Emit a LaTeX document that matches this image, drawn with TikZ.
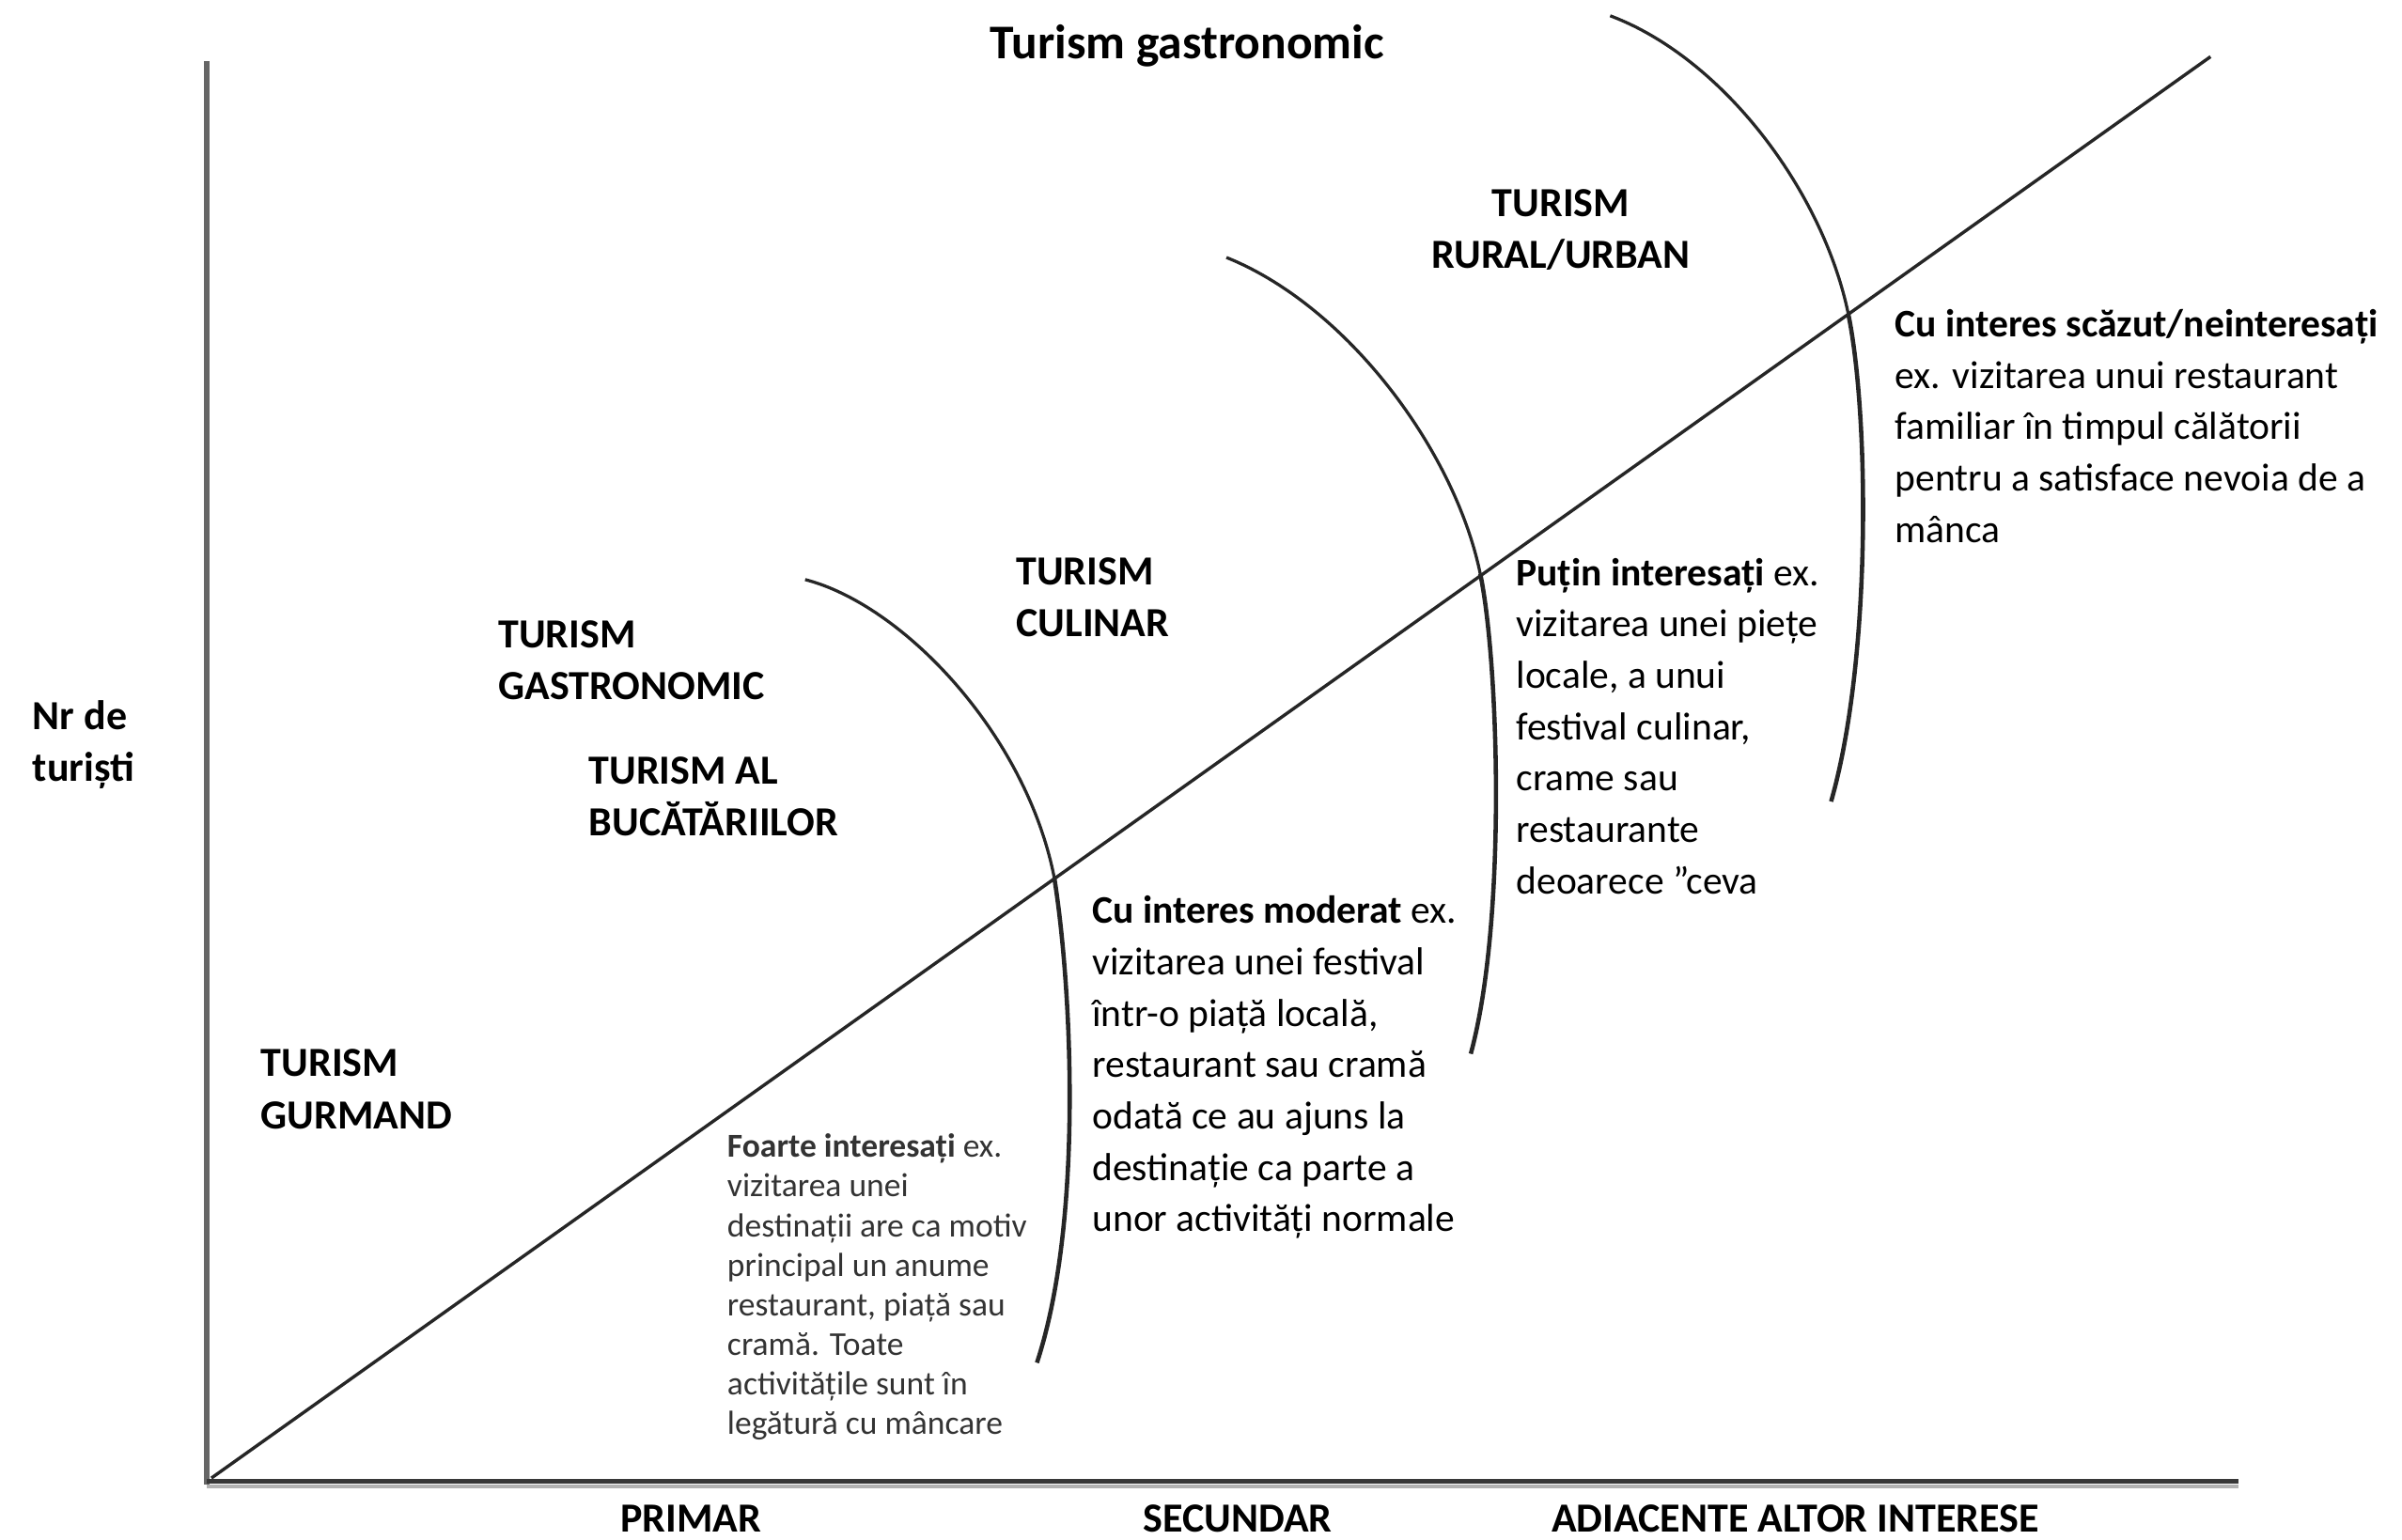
\documentclass[tikz,border=0pt]{standalone}
\usepackage{fontspec}
\setmainfont{Carlito}
\begin{document}
\begin{tikzpicture}[x=0.5bp,y=-0.5bp,
  lbl/.style={anchor=base west, inner sep=0pt, font=\fontsize{13.5bp}{16.9bp}\selectfont\bfseries},
  axlbl/.style={anchor=base, inner sep=0pt, font=\fontsize{13.5bp}{16.9bp}\selectfont\bfseries},
  body/.style={anchor=base west, inner sep=0pt, font=\fontsize{12.75bp}{16.75bp}\selectfont},
  smallbody/.style={anchor=base west, inner sep=0pt, text=black!80, font=\fontsize{10.9bp}{12.93bp}\selectfont},
  upcurve/.style={line width=1bp, black!85},
  lowcurve/.style={line width=1.4bp, black!85},
  ]
\useasboundingbox (0,0) rectangle (1568,1005);
\clip (0,0) rectangle (1568,1005);

% axes
\coordinate (ytop) at (135,40);
\coordinate (ybot) at (135,969);
\coordinate (xl) at (135,967);
\coordinate (xr) at (1461,967);
\draw[line width=2bp, black!60] (ytop) -- (ybot);
\draw[line width=1.2bp, black!30] ([yshift=-3.5*0.5bp]xl) -- ([yshift=-3.5*0.5bp]xr);
\draw[line width=1.6bp, black!78] (xl) -- (xr);

% diagonal
\coordinate (o) at (138,965);
\coordinate (d) at (1443,37);
\draw[line width=1.05bp, black!85] (o) -- (d);

% curves
\coordinate (c1a) at (525.6,378.4);
\coordinate (c1m) at (688.2,573);
\coordinate (c1b) at (676.9,889.7);
\draw[upcurve] (c1a) .. controls (590,395) and (670,480) .. (c1m);
\draw[lowcurve] (c1m) .. controls (699,640) and (708,795) .. (c1b);

\coordinate (c2a) at (800.6,168.1);
\coordinate (c2m) at (966.3,374.7);
\coordinate (c2b) at (960.1,688);
\draw[upcurve] (c2a) .. controls (880,200) and (950,295) .. (c2m);
\draw[lowcurve] (c2m) .. controls (978,430) and (984,600) .. (c2b);

\coordinate (c3a) at (1051.1,10.3);
\coordinate (c3m) at (1206.5,204.8);
\coordinate (c3b) at (1195.3,523.3);
\draw[upcurve] (c3a) .. controls (1125,38) and (1190,125) .. (c3m);
\draw[lowcurve] (c3m) .. controls (1220,270) and (1222,430) .. (c3b);

% title
\node[anchor=base, inner sep=0pt, font=\fontsize{15.8bp}{18bp}\selectfont\bfseries] (title) at (775,38.5) {Turism gastronomic};

% y label
\node[lbl] (ylab) at (21,476.5) {\begin{tabular}[t]{@{}l@{}}Nr de\\turiști\end{tabular}};

% category labels
\node[lbl] (gurmand) at (170,703) {\begin{tabular}[t]{@{}l@{}}TURISM\\GURMAND\end{tabular}};
\node[lbl] (gastro) at (325,423) {\begin{tabular}[t]{@{}l@{}}TURISM\\GASTRONOMIC\end{tabular}};
\node[lbl] (bucat) at (384,512) {\begin{tabular}[t]{@{}l@{}}TURISM AL\\BUCĂTĂRIILOR\end{tabular}};
\node[lbl] (culinar) at (663,382) {\begin{tabular}[t]{@{}l@{}}TURISM\\CULINAR\end{tabular}};
\node[lbl, anchor=base] (rural) at (1019,141.5) {\begin{tabular}[t]{@{}c@{}}TURISM\\RURAL/URBAN\end{tabular}};

% descriptions
\node[smallbody] (foarte) at (474.4,755.6) {\begin{tabular}[t]{@{}l@{}}{\bfseries Foarte interesați} ex.\\vizitarea unei\\destinații are ca motiv\\principal un anume\\restaurant, piață sau\\cramă. Toate\\activitățile sunt în\\legătură cu mâncare\end{tabular}};

\node[body] (moderat) at (712.7,603) {\begin{tabular}[t]{@{}l@{}}{\bfseries Cu interes moderat} ex.\\vizitarea unei festival\\într-o piață locală,\\restaurant sau cramă\\odată ce au ajuns la\\destinație ca parte a\\unor activități normale\end{tabular}};

\node[body] (putin) at (989.4,382.4) {\begin{tabular}[t]{@{}l@{}}{\bfseries Puțin interesați} ex.\\vizitarea unei piețe\\locale, a unui\\festival culinar,\\crame sau\\restaurante\\deoarece ”ceva\end{tabular}};

\node[body] (scazut) at (1236.8,220) {\begin{tabular}[t]{@{}l@{}}{\bfseries Cu interes scăzut/neinteresați}\\ex. vizitarea unui restaurant\\familiar în timpul călătorii\\pentru a satisface nevoia de a\\mânca\end{tabular}};

% x labels
\node[axlbl] (primar) at (451,1000.5) {PRIMAR};
\node[axlbl] (secundar) at (808,1000.5) {SECUNDAR};
\node[axlbl] (adiacente) at (1172,1000.5) {ADIACENTE ALTOR INTERESE};
\end{tikzpicture}
\end{document}
